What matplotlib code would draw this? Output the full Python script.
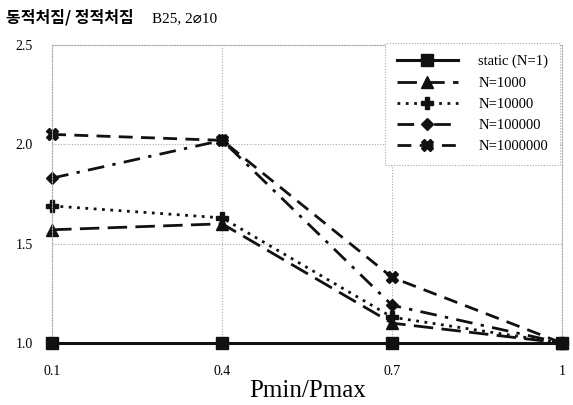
import numpy as np
import matplotlib.pyplot as plt

# 하중비에 따른 동적처짐/정적처짐 비
ratio_labels = ['0.1', '0.4', '0.7', '1']
static_n1 = [1.00, 1.00, 1.00, 1.00]
n_1000 = [1.57, 1.60, 1.10, 1.00]
n_10000 = [1.69, 1.63, 1.13, 1.00]
n_100000 = [1.83, 2.02, 1.19, 1.00]
n_1000000 = [2.05, 2.02, 1.33, 1.00]

plt.rcParams['font.family'] = ['Liberation Serif', 'DejaVu Serif']

fig = plt.figure(figsize=(5.73, 4.05), dpi=100)
ax = fig.add_axes([0.091, 0.153, 0.890, 0.736])

x = np.arange(len(ratio_labels))
k = '#111111'
ax.plot(x, static_n1, color=k, lw=2.2, ls='-', marker='s', ms=9, label='static (N=1)',
        zorder=5, clip_on=False)
ax.plot(x, n_1000, color=k, lw=2.0, ls=(0, (7, 3)), marker='^', ms=8, label='N=1000', clip_on=False)
ax.plot(x, n_10000, color=k, lw=2.0, ls=(0, (1, 2)), marker='P', ms=8, label='N=10000', clip_on=False)
ax.plot(x, n_100000, color=k, lw=2.0, ls=(0, (6, 3, 1.2, 3)), marker='D', ms=6.5,
        label='N=100000', clip_on=False)
ax.plot(x, n_1000000, color=k, lw=2.0, ls=(0, (5, 3)), marker='X', ms=8, label='N=1000000',
        clip_on=False)

ax.set_xlim(0, 3)
ax.set_ylim(1.0, 2.5)
ax.set_xticks(x)
ax.set_xticklabels(ratio_labels)
ax.set_yticks([1.0, 1.5, 2.0, 2.5])
ax.set_yticklabels(['1.0', '1.5', '2.0', '2.5'])
ax.tick_params(length=0, labelsize=10, pad=16)
ax.tick_params(axis='y', pad=14)
ax.grid(True, color='#aaaaaa', ls=(0, (1, 1.5)), lw=0.8)
for s in ax.spines.values():
    s.set_color('#aaaaaa')
    s.set_linestyle((0, (1, 1.5)))
    s.set_linewidth(0.8)

ax.set_xlabel('Pmin/Pmax', fontsize=18, labelpad=1)

leg = ax.legend(loc='upper right', bbox_to_anchor=(1.01, 1.03), fontsize=10.5,
                handlelength=4.2, labelspacing=0.55, borderpad=0.8,
                fancybox=False, framealpha=1, handletextpad=1.4)
leg.get_frame().set_edgecolor('#aaaaaa')
leg.get_frame().set_linestyle((0, (1, 1.5)))
leg.get_frame().set_linewidth(0.8)

fig.text(0.010, 0.958, '동적처짐/ 정적처짐', fontsize=11.5, fontweight='bold',
         family=['Noto Sans CJK KR', 'DejaVu Sans'], va='center')
fig.text(0.265, 0.955, 'B25, 2⌀10', fontsize=11,
         family=['Liberation Serif', 'DejaVu Sans'], va='center')

fig.savefig('out.png', dpi=100)
